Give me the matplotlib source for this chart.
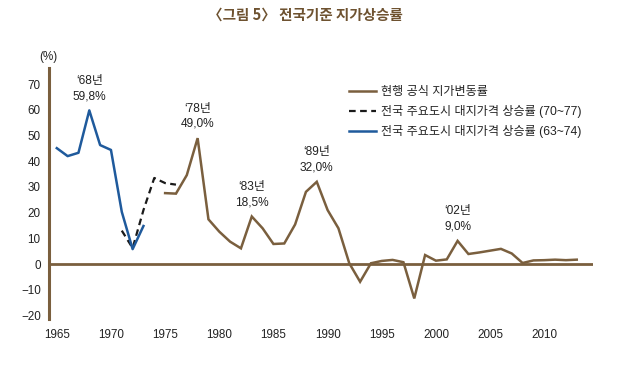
import matplotlib
matplotlib.use("Agg")
import matplotlib.pyplot as plt
from matplotlib.lines import Line2D

plt.rcParams['font.family'] = ['Liberation Sans', 'Noto Sans CJK KR', 'DejaVu Sans']

# Data
blue_years = [1965, 1966, 1967, 1968, 1969, 1970, 1971, 1972, 1973]
blue_vals = [45.1, 42.0, 43.3, 59.8, 46.3, 44.4, 20.3, 5.8, 14.8]

dash_years = [1971, 1972, 1973, 1974, 1975, 1976]
dash_vals = [13.0, 6.2, 21.0, 33.5, 31.5, 30.9]

brown_years = list(range(1975, 2014))
brown_vals = [27.6, 27.4, 34.6, 49.0, 17.4, 12.6, 8.7, 6.1, 18.5, 13.9,
              7.8, 8.0, 15.4, 28.1, 32.0, 21.0, 13.9, 0.3, -6.9, 0.3,
              1.2, 1.6, 0.7, -13.4, 3.5, 1.3, 1.8, 9.0, 3.9, 4.5,
              5.2, 5.9, 4.1, 0.4, 1.4, 1.5, 1.7, 1.5, 1.7]

legend_labels = ['현행 공식 지가변동률',
                 '전국 주요도시 대지가격 상승률 (70~77)',
                 '전국 주요도시 대지가격 상승률 (63~74)']

annotations = [(1968, "‘68년\n59,8%"), (1978, "‘78년\n49,0%"),
               (1983, "‘83년\n18,5%"), (1989, "‘89년\n32,0%"),
               (2002, "‘02년\n9,0%")]

xticks = [1965, 1970, 1975, 1980, 1985, 1990, 1995, 2000, 2005, 2010]
yticks = [-20, -10, 0, 10, 20, 30, 40, 50, 60, 70]

BROWN = '#7a5f3e'
BLUE = '#1f5a9c'
TXT = '#222222'

fig = plt.figure(figsize=(6.33, 3.65), dpi=100)
ax = fig.add_axes([49/633, 1-319/365, (593-49)/633, (319-68)/365])

ax.plot(brown_years, brown_vals, color=BROWN, lw=1.8, solid_joinstyle='miter')
ax.plot(dash_years, dash_vals, color='#1a1a1a', lw=1.6, ls=(0, (3, 2)))
ax.plot(blue_years, blue_vals, color=BLUE, lw=1.8)

ax.axhline(0, color=BROWN, lw=2.0, zorder=0)

ax.set_xlim(1964.28, 2014.5)
ax.set_ylim(-21.4, 76.3)

for s in ['top', 'right', 'bottom']:
    ax.spines[s].set_visible(False)
ax.spines['left'].set_color(BROWN)
ax.spines['left'].set_linewidth(2.2)

ax.set_xticks(xticks)
ax.set_yticks(yticks)
ax.set_yticklabels([str(v).replace('-', '−') for v in yticks])
ax.tick_params(axis='both', length=0, labelsize=8.4, colors=TXT)
ax.tick_params(axis='y', pad=6)
ax.tick_params(axis='x', pad=7)

fig.text(48/633, 1-57/365, '(%)', ha='center', va='center', fontsize=8.4, color=TXT)

for yr, txt in annotations:
    if yr == 1968:
        val = blue_vals[blue_years.index(yr)]
    else:
        val = brown_vals[brown_years.index(yr)]
    ax.annotate(txt, xy=(yr, val), xytext=(0, 6), textcoords='offset points',
                ha='center', va='bottom', fontsize=8.6, color=TXT, linespacing=1.35)

handles = [Line2D([], [], color=BROWN, lw=1.8),
           Line2D([], [], color='#1a1a1a', lw=1.6, ls=(0, (3, 2))),
           Line2D([], [], color=BLUE, lw=1.8)]
leg = ax.legend(handles, legend_labels, loc='upper left',
                bbox_to_anchor=((349-49)/(593-49), 1-(86-68)/(319-68)),
                frameon=False, fontsize=8.7, handlelength=2.2,
                handletextpad=0.45, labelspacing=0.6, borderpad=0, borderaxespad=0)
for t in leg.get_texts():
    t.set_color(TXT)

fig.text(305/633, 1-15/365, '〈그림 5〉 전국기준 지가상승률', ha='center', va='center',
         fontsize=10.5, fontweight='bold', color='#6e5230',
         family=['Noto Sans CJK KR', 'DejaVu Sans'])

fig.savefig('out.png', dpi=100)
